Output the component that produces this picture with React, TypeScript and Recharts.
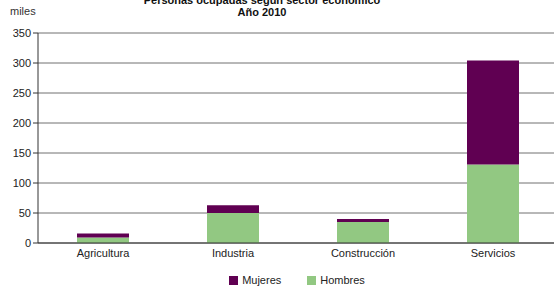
import React from "react";
import { BarChart, Bar, XAxis, YAxis, CartesianGrid, Legend } from "recharts";

const categories = ["Agricultura", "Industria", "Construcción", "Servicios"];
const hombres = [9, 50, 35, 131];
const mujeres = [7, 13, 5, 173];
const yTicks = [0, 50, 100, 150, 200, 250, 300, 350];

const data = categories.map((c, i) => ({ name: c, idx: i, Hombres: hombres[i], Mujeres: mujeres[i] }));

const PURPLE = "#600052";
const GREEN = "#92c882";
const FONT = "'Liberation Sans', Arial, sans-serif";

const LegendContent = () => (
  <div style={{ display: "flex", justifyContent: "center", fontFamily: FONT, fontSize: 11, color: "#222", paddingTop: 11 }}>
    <div style={{ display: "flex", alignItems: "center", marginRight: 26, marginLeft: 36 }}>
      <span style={{ width: 9, height: 9, background: PURPLE, display: "inline-block", marginRight: 4 }} />
      Mujeres
    </div>
    <div style={{ display: "flex", alignItems: "center" }}>
      <span style={{ width: 9, height: 9, background: GREEN, display: "inline-block", marginRight: 4 }} />
      Hombres
    </div>
  </div>
);

export default function App() {
  return (
    <div style={{ position: "absolute", left: 0, top: 0, width: 554, height: 290, overflow: "hidden", background: "#fff" }}>
      <div style={{ position: "absolute", left: 0, width: 524, top: -6, textAlign: "center", fontFamily: FONT, fontSize: 11, fontWeight: "bold", lineHeight: "12px", color: "#111" }}>
        Personas ocupadas según sector económico
        <br />
        Año 2010
      </div>
      <div style={{ position: "absolute", left: 10, top: 5, fontFamily: FONT, fontSize: 11, color: "#333" }}>miles</div>
      <div style={{ position: "absolute", left: 0, top: 0 }}>
        <BarChart width={570} height={290} data={data} margin={{ top: 33, right: 12, bottom: 0, left: 0 }} barCategoryGap="30%">
          <CartesianGrid vertical={false} stroke="#707070" strokeWidth={1} />
          <XAxis
            xAxisId="sep"
            type="number"
            dataKey="idx"
            domain={[0, 4]}
            ticks={[1, 2, 3]}
            tick={false}
            tickSize={4}
            tickLine={{ stroke: "#999" }}
            axisLine={false}
            height={0}
          />
          <XAxis
            dataKey="name"
            interval={0}
            tickLine={false}
            tickSize={4}
            tickMargin={2}
            axisLine={{ stroke: "#333" }}
            tick={{ fill: "#222", fontSize: 11, fontFamily: FONT }}
            height={20}
          />
          <YAxis
            domain={[0, 350]}
            ticks={yTicks}
            width={38}
            tickSize={5}
            tickMargin={2}
            axisLine={{ stroke: "#333" }}
            tickLine={{ stroke: "#333" }}
            tick={{ fill: "#222", fontSize: 11, fontFamily: FONT }}
            interval={0}
          />
          <Legend verticalAlign="bottom" height={27} content={<LegendContent />} />
          <Bar dataKey="Hombres" stackId="a" fill={GREEN} isAnimationActive={false} legendType="square" />
          <Bar dataKey="Mujeres" stackId="a" fill={PURPLE} isAnimationActive={false} legendType="square" />
        </BarChart>
      </div>
    </div>
  );
}
